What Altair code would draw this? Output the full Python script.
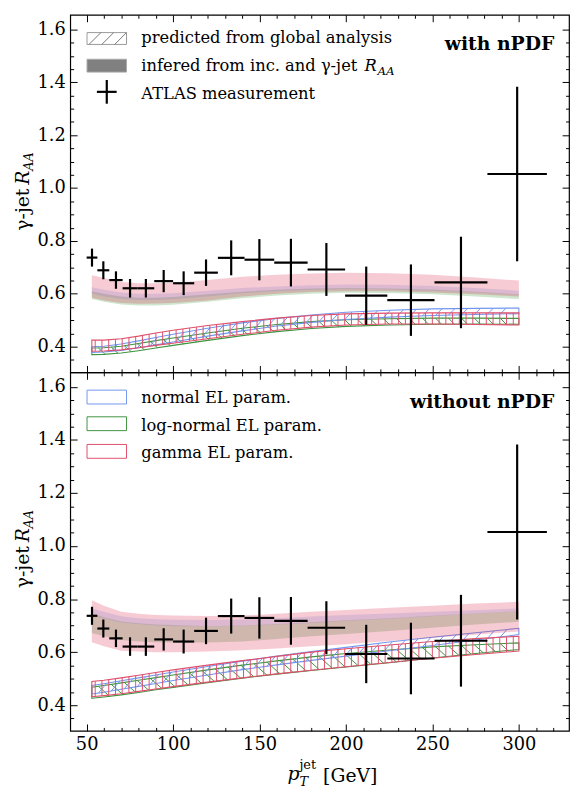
import altair as alt
import numpy as np
import pandas as pd

FONT = "DejaVu Serif"

# ---------------- data ----------------
bin_edges = [50.0, 56.2, 63.1, 70.8, 79.4, 89.1, 100.0, 112.2, 125.9, 141.3,
             158.5, 177.8, 199.5, 223.9, 251.2, 281.8, 316.2]
atlas_raa = [0.737, 0.689, 0.652, 0.621, 0.621, 0.648, 0.640, 0.680, 0.736, 0.729,
             0.718, 0.692, 0.593, 0.576, 0.643, 1.053]
atlas_err = [0.034, 0.034, 0.033, 0.035, 0.035, 0.042, 0.045, 0.050, 0.066, 0.078,
             0.090, 0.100, 0.110, 0.135, 0.173, 0.330]

band_x = [53, 60, 70, 80, 90, 100, 120, 140, 160, 180, 200, 225, 250, 275, 300]

# with nPDF : inferred from inc. and gamma-jet RAA (filled)
w_inf_gamma_hi = [0.670, 0.660, 0.645, 0.640, 0.640, 0.642, 0.652, 0.665, 0.672, 0.677, 0.680, 0.678, 0.672, 0.662, 0.650]
w_inf_gamma_lo = [0.585, 0.575, 0.565, 0.562, 0.563, 0.565, 0.575, 0.590, 0.600, 0.607, 0.610, 0.610, 0.605, 0.598, 0.590]
w_inf_normal_hi = [0.625, 0.615, 0.605, 0.600, 0.600, 0.602, 0.612, 0.622, 0.628, 0.632, 0.635, 0.634, 0.630, 0.622, 0.612]
w_inf_normal_lo = [0.600, 0.590, 0.580, 0.577, 0.577, 0.579, 0.590, 0.602, 0.610, 0.614, 0.617, 0.616, 0.612, 0.605, 0.596]
w_inf_lognormal_hi = [0.610, 0.600, 0.590, 0.585, 0.585, 0.588, 0.598, 0.608, 0.615, 0.620, 0.622, 0.620, 0.616, 0.608, 0.598]
w_inf_lognormal_lo = [0.580, 0.570, 0.560, 0.556, 0.556, 0.559, 0.570, 0.583, 0.594, 0.600, 0.604, 0.603, 0.598, 0.590, 0.580]
# with nPDF : predicted from global analysis (hatched)
w_pred_gamma_hi = [0.425, 0.425, 0.430, 0.440, 0.452, 0.462, 0.480, 0.495, 0.508, 0.518, 0.524, 0.527, 0.528, 0.528, 0.528]
w_pred_gamma_lo = [0.383, 0.384, 0.388, 0.396, 0.405, 0.413, 0.430, 0.447, 0.462, 0.474, 0.482, 0.486, 0.486, 0.484, 0.482]
w_pred_normal_hi = [0.400, 0.402, 0.410, 0.422, 0.435, 0.447, 0.470, 0.490, 0.507, 0.520, 0.530, 0.538, 0.543, 0.545, 0.546]
w_pred_normal_lo = [0.378, 0.380, 0.386, 0.396, 0.407, 0.418, 0.440, 0.460, 0.478, 0.492, 0.503, 0.512, 0.518, 0.522, 0.525]
w_pred_lognormal_hi = [0.395, 0.396, 0.402, 0.412, 0.423, 0.433, 0.452, 0.470, 0.484, 0.495, 0.502, 0.506, 0.508, 0.508, 0.507]
w_pred_lognormal_lo = [0.370, 0.371, 0.376, 0.385, 0.395, 0.405, 0.424, 0.442, 0.457, 0.469, 0.477, 0.482, 0.485, 0.486, 0.485]

# without nPDF : inferred (filled)
wo_inf_gamma_hi = [0.796, 0.775, 0.752, 0.745, 0.740, 0.738, 0.736, 0.738, 0.745, 0.752, 0.759, 0.767, 0.775, 0.783, 0.790]
wo_inf_gamma_lo = [0.637, 0.622, 0.605, 0.602, 0.600, 0.600, 0.602, 0.607, 0.614, 0.622, 0.630, 0.642, 0.654, 0.666, 0.678]
wo_inf_normal_hi = [0.765, 0.752, 0.735, 0.728, 0.724, 0.722, 0.721, 0.723, 0.728, 0.734, 0.740, 0.746, 0.752, 0.758, 0.765]
wo_inf_normal_lo = [0.740, 0.727, 0.712, 0.705, 0.700, 0.698, 0.697, 0.699, 0.704, 0.710, 0.717, 0.726, 0.735, 0.745, 0.754]
wo_inf_lognormal_hi = [0.746, 0.732, 0.716, 0.709, 0.704, 0.702, 0.698, 0.700, 0.706, 0.713, 0.720, 0.728, 0.737, 0.746, 0.755]
wo_inf_lognormal_lo = [0.672, 0.660, 0.646, 0.640, 0.637, 0.636, 0.636, 0.640, 0.650, 0.660, 0.668, 0.680, 0.692, 0.704, 0.715]
# without nPDF : predicted (hatched)
wo_pred_gamma_hi = [0.489, 0.494, 0.503, 0.513, 0.523, 0.533, 0.551, 0.568, 0.584, 0.600, 0.613, 0.627, 0.640, 0.651, 0.660]
wo_pred_gamma_lo = [0.432, 0.436, 0.443, 0.452, 0.461, 0.470, 0.487, 0.503, 0.518, 0.532, 0.545, 0.561, 0.577, 0.591, 0.604]
wo_pred_normal_hi = [0.474, 0.481, 0.492, 0.503, 0.514, 0.525, 0.546, 0.566, 0.585, 0.602, 0.618, 0.638, 0.656, 0.673, 0.690]
wo_pred_normal_lo = [0.442, 0.449, 0.460, 0.471, 0.482, 0.493, 0.514, 0.534, 0.552, 0.569, 0.585, 0.605, 0.625, 0.646, 0.666]
wo_pred_lognormal_hi = [0.468, 0.474, 0.484, 0.494, 0.504, 0.514, 0.533, 0.551, 0.567, 0.582, 0.595, 0.608, 0.620, 0.628, 0.635]
wo_pred_lognormal_lo = [0.426, 0.431, 0.439, 0.448, 0.458, 0.467, 0.485, 0.502, 0.517, 0.531, 0.544, 0.560, 0.578, 0.595, 0.610]

x_major = [50, 100, 150, 200, 250, 300]
x_minor = [v for v in range(60, 330, 10) if v % 50]
y_major = [0.4, 0.6, 0.8, 1.0, 1.2, 1.4, 1.6]
y_minor = [round(0.35 + 0.05 * i, 2) for i in range(26) if i % 4 != 1]

# ---------------- layout / style ----------------
XDOM = [40.5, 329.0]
YDOM = [0.303, 1.655]
W = 505
H_TOP, H_BOT = 362, 363
C_FILL = {"gamma": "#dc143c", "normal": "#6495ed", "lognormal": "#228b22"}
C_HATCH = {"gamma": "#e04f6c", "normal": "#7397ef", "lognormal": "#3f9440"}
K45 = (268.5 / 1.75)  # GeV per unit of RAA giving ~45 degree hatching

xs = alt.Scale(domain=XDOM, nice=False, zero=False)
ys = alt.Scale(domain=YDOM, nice=False, zero=False)
one = pd.DataFrame({"k": [0]})


def ax(orient, values, size, labels=False, fmt=None):
    kw = dict(orient=orient, values=values, tickSize=size, offset=-size, domain=False,
              grid=False, labels=labels, ticks=True, tickColor="black", tickWidth=1,
              title=None)
    if labels:
        kw.update(labelFont=FONT, labelFontSize=18, labelColor="black", labelPadding=5,
                  labelOverlap=False, format=fmt)
    return alt.Axis(**kw)


def band_df(lo, hi):
    return pd.DataFrame({"x": band_x, "lo": lo, "hi": hi})


def hatch_df(lo, hi, kind, step):
    bx = np.array(band_x, dtype=float)
    lo = np.array(lo)
    hi = np.array(hi)
    xs0 = np.arange(bx[0] + step / 2, bx[-1], step)
    l0 = np.interp(xs0, bx, lo)
    h0 = np.interp(xs0, bx, hi)
    if kind == "|":
        return pd.DataFrame({"x": xs0, "x2": xs0, "y": l0, "y2": h0})
    d = (h0 - l0) * K45
    x2 = xs0 + d
    keep = x2 <= bx[-1]
    xs0, x2, l0, h0 = xs0[keep], x2[keep], l0[keep], h0[keep]
    if kind == "/":
        return pd.DataFrame({"x": xs0, "x2": x2, "y": l0, "y2": np.interp(x2, bx, hi)})
    return pd.DataFrame({"x": xs0, "x2": x2, "y": h0, "y2": np.interp(x2, bx, lo)})


def txt(s, x, y, size=16.5, align="left", baseline="alphabetic", style="normal",
        weight="normal", angle=0):
    return alt.Chart(one).mark_text(
        font=FONT, fontSize=size, align=align, baseline=baseline, fontStyle=style,
        fontWeight=weight, angle=angle, color="black"
    ).encode(x=alt.value(x), y=alt.value(y), text=alt.value(s))


def prule(x1, y1, x2, y2, color, width=1.0):
    return alt.Chart(one).mark_rule(color=color, strokeWidth=width).encode(
        x=alt.value(x1), x2=alt.value(x2), y=alt.value(y1), y2=alt.value(y2))


def prect(x1, y1, x2, y2, fill, stroke, fop=1.0):
    return alt.Chart(one).mark_rect(fill=fill, fillOpacity=fop, stroke=stroke,
                                    strokeWidth=1).encode(
        x=alt.value(x1), x2=alt.value(x2), y=alt.value(y1), y2=alt.value(y2))


def panel(inf, pred, H, show_xlabels, extra):
    axes = [
        (ax("bottom", x_major, 7, show_xlabels, "d"), ax("left", y_major, 7, True, ".1f")),
        (ax("bottom", x_minor, 3.5), ax("left", y_minor, 3.5)),
        (ax("top", x_major, 7), ax("right", y_major, 7)),
        (ax("top", x_minor, 3.5), ax("right", y_minor, 3.5)),
    ]
    layers = []
    # hatched bands
    for name, kind, step in [("lognormal", "\\", 7.5), ("normal", "/", 7.5), ("gamma", "|", 3.9)]:
        lo, hi = pred[name]
        layers.append(alt.Chart(band_df(lo, hi)).mark_area(
            fill="white", fillOpacity=0, stroke=C_HATCH[name], strokeWidth=1.1).encode(
            x=alt.X("x:Q", scale=xs, axis=None),
            y=alt.Y("lo:Q", scale=ys, axis=None), y2=alt.Y2("hi:Q")))
        layers.append(alt.Chart(hatch_df(lo, hi, kind, step)).mark_rule(
            color=C_HATCH[name], strokeWidth=1.0).encode(
            x=alt.X("x:Q", scale=xs, axis=None), x2=alt.X2("x2:Q"),
            y=alt.Y("y:Q", scale=ys, axis=None), y2=alt.Y2("y2:Q")))
    # filled bands (carry the axes)
    for i, name in enumerate(["lognormal", "normal", "gamma"]):
        lo, hi = inf[name]
        xa, ya = axes[i]
        layers.append(alt.Chart(band_df(lo, hi)).mark_area(
            color=C_FILL[name], opacity=0.22).encode(
            x=alt.X("x:Q", scale=xs, axis=xa),
            y=alt.Y("lo:Q", scale=ys, axis=ya), y2=alt.Y2("hi:Q")))
    # ATLAS points
    xc = [(a + b) / 2 for a, b in zip(bin_edges[:-1], bin_edges[1:])]
    adf = pd.DataFrame({
        "x": xc, "xlo": bin_edges[:-1], "xhi": bin_edges[1:], "y": atlas_raa,
        "ylo": [v - e for v, e in zip(atlas_raa, atlas_err)],
        "yhi": [v + e for v, e in zip(atlas_raa, atlas_err)],
    })
    xa, ya = axes[3]
    layers.append(alt.Chart(adf).mark_rule(color="black", strokeWidth=2.2).encode(
        x=alt.X("x:Q", scale=xs, axis=xa),
        y=alt.Y("ylo:Q", scale=ys, axis=ya), y2=alt.Y2("yhi:Q")))
    layers.append(alt.Chart(adf).mark_rule(color="black", strokeWidth=2.2).encode(
        x=alt.X("xlo:Q", scale=xs, axis=None), x2=alt.X2("xhi:Q"),
        y=alt.Y("y:Q", scale=ys, axis=None)))
    # y title
    layers += [
        txt("γ-jet", -42, 176, size=19, align="right", angle=270),
        txt("R", -42, 172, size=19, align="left", style="italic", angle=270),
        txt("AA", -38, 158, size=13, align="left", style="italic", angle=270),
    ]
    layers += extra
    return alt.layer(*layers).resolve_axis(x="independent", y="independent").properties(
        width=W, height=H)


top_extra = [
    prect(17, 18, 57, 30, "white", "#999999", 0.0),
    prule(19, 30, 31, 18, "#777777"), prule(32, 30, 44, 18, "#777777"),
    prule(45, 30, 57, 18, "#777777"),
    prect(17, 45, 57, 58, "#808080", "#aaaaaa"),
    prule(27, 78, 47, 78, "black", 2.2), prule(37, 66, 37, 90, "black", 2.2),
    txt("predicted from global analysis", 72, 28.5),
    txt("infered from inc. and γ-jet", 72, 57),
    txt("R", 298, 57, style="italic"),
    txt("AA", 311, 61, size=12, style="italic"),
    txt("ATLAS measurement", 72, 85),
    txt("with nPDF", 490, 36, size=19, align="right", weight="bold"),
]
bot_extra = [
    prect(17, 18, 57, 32, "white", C_HATCH["normal"], 0.0),
    prect(17, 45, 57, 59, "white", C_HATCH["lognormal"], 0.0),
    prect(17, 73, 57, 87, "white", C_HATCH["gamma"], 0.0),
    txt("normal EL param.", 72, 31.5),
    txt("log-normal EL param.", 72, 59),
    txt("gamma EL param.", 72, 86.5),
    txt("without nPDF", 490, 36, size=19, align="right", weight="bold"),
    txt("p", 220, 413, size=19, style="italic"),
    txt("T", 232, 419, size=13, style="italic"),
    txt("jet", 232, 402, size=13),
    txt("[GeV]", 256, 415, size=19),
]

w_inf = {"gamma": (w_inf_gamma_lo, w_inf_gamma_hi), "normal": (w_inf_normal_lo, w_inf_normal_hi),
         "lognormal": (w_inf_lognormal_lo, w_inf_lognormal_hi)}
w_pred = {"gamma": (w_pred_gamma_lo, w_pred_gamma_hi), "normal": (w_pred_normal_lo, w_pred_normal_hi),
          "lognormal": (w_pred_lognormal_lo, w_pred_lognormal_hi)}
wo_inf = {"gamma": (wo_inf_gamma_lo, wo_inf_gamma_hi), "normal": (wo_inf_normal_lo, wo_inf_normal_hi),
          "lognormal": (wo_inf_lognormal_lo, wo_inf_lognormal_hi)}
wo_pred = {"gamma": (wo_pred_gamma_lo, wo_pred_gamma_hi), "normal": (wo_pred_normal_lo, wo_pred_normal_hi),
           "lognormal": (wo_pred_lognormal_lo, wo_pred_lognormal_hi)}

top = panel(w_inf, w_pred, H_TOP, False, top_extra)
bottom = panel(wo_inf, wo_pred, H_BOT, True, bot_extra)

chart = alt.vconcat(top, bottom, spacing=0, bounds="flush").properties(
    padding={"left": 5, "top": 0, "right": 0, "bottom": 0}
).configure_view(stroke="black", strokeWidth=1.2)

chart.save("out.html", embed_options={"renderer": "svg", "actions": False})
